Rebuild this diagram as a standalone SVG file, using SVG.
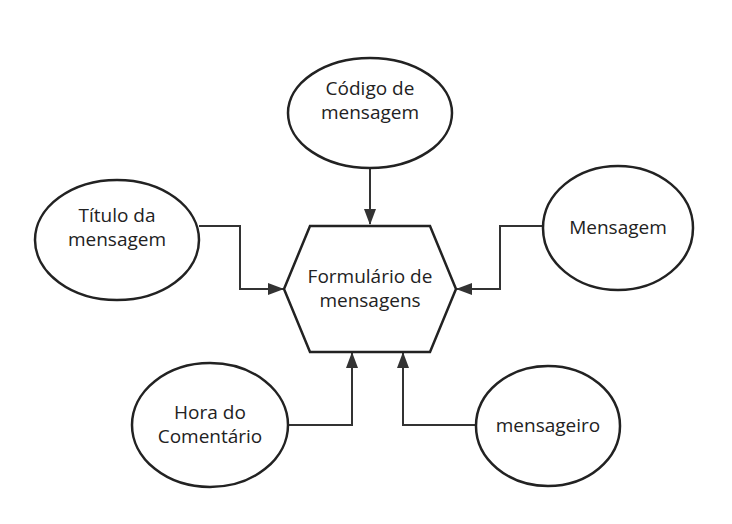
<svg xmlns="http://www.w3.org/2000/svg" width="732" height="524" viewBox="0 0 732 524">
<defs>
<style>
.n{fill:#fff;stroke:#222;stroke-width:2.5}
.t{font-family:"Open Sans","Noto Sans",sans-serif;font-size:19px;fill:#222;text-anchor:middle}
.c{fill:none;stroke:#333;stroke-width:2}
</style>
<marker id="a" markerWidth="16" markerHeight="12" refX="15" refY="6" orient="auto" markerUnits="userSpaceOnUse" viewBox="0 0 16 12"><path d="M0,0L16,6L0,12z" fill="#333"/></marker>
</defs>
<rect width="732" height="524" fill="#fff"/>
<g id="connectors">
<path class="c" d="M370,168V224" marker-end="url(#a)"/>
<path class="c" d="M199,226H240V289H283" marker-end="url(#a)"/>
<path class="c" d="M543,226H500V289H457" marker-end="url(#a)"/>
<path class="c" d="M288,425H352V353" marker-end="url(#a)"/>
<path class="c" d="M476,425H403V353" marker-end="url(#a)"/>
</g>
<g id="hub"><path class="n" d="M310,226H430L456,289L430,352H310L284,289Z"/>
<text class="t" x="370" y="283">Formulário de</text><text class="t" x="370" y="307">mensagens</text></g>
<g id="codigo"><ellipse class="n" cx="370" cy="113" rx="82" ry="55"/>
<text class="t" x="370" y="95">Código de</text><text class="t" x="370" y="119">mensagem</text></g>
<g id="titulo"><ellipse class="n" cx="117" cy="240" rx="82" ry="60"/>
<text class="t" x="117" y="222">Título da</text><text class="t" x="117" y="246">mensagem</text></g>
<g id="mensagem"><ellipse class="n" cx="618" cy="228" rx="75" ry="62"/>
<text class="t" x="618" y="234">Mensagem</text></g>
<g id="hora"><ellipse class="n" cx="210" cy="425" rx="78" ry="62"/>
<text class="t" x="210" y="419">Hora do</text><text class="t" x="210" y="443">Comentário</text></g>
<g id="mensageiro"><ellipse class="n" cx="548" cy="426" rx="72" ry="60"/>
<text class="t" x="548" y="432">mensageiro</text></g>
</svg>
